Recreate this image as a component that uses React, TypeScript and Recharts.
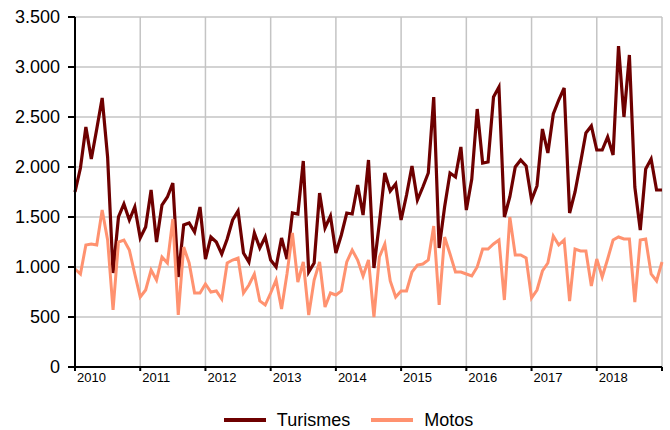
import { LineChart, Line, XAxis, YAxis, CartesianGrid, Legend } from "recharts";

// monthly values, Jan 2010 .. Jan 2019
const turismes = [
  1750, 1990, 2400, 2080, 2380, 2690, 2100, 940, 1500, 1630, 1470, 1600,
  1290, 1400, 1770, 1250, 1620, 1700, 1840, 900, 1420, 1440, 1350, 1600,
  1080, 1300, 1250, 1130, 1280, 1470, 1560, 1140, 1050, 1340, 1190, 1300,
  1070, 1000, 1290, 1080, 1540, 1530, 2060, 950, 1040, 1740, 1390, 1510,
  1140, 1320, 1540, 1530, 1820, 1520, 2070, 990, 1440, 1940, 1760, 1830,
  1470, 1720, 2010, 1670, 1800, 1940, 2700, 1190, 1600, 1940, 1900, 2200,
  1570, 1880, 2580, 2040, 2050, 2700, 2800, 1500, 1700, 2000, 2070, 2010,
  1670, 1810, 2380, 2140, 2530, 2670, 2790, 1540, 1750, 2040, 2340, 2410,
  2170, 2170, 2300, 2120, 3210, 2500, 3120, 1800, 1370, 1980, 2080, 1770, 1770,
];

const motos = [
  980, 930, 1220, 1230, 1220, 1570, 1270, 570, 1250, 1270, 1170, 930,
  700, 770, 970, 870, 1100, 1040, 1480, 520, 1200, 1040, 740, 740,
  830, 750, 760, 680, 1040, 1070, 1090, 740, 820, 930, 660, 620,
  740, 870, 580, 930, 1340, 850, 1050, 520, 870, 1050, 600, 740,
  720, 760, 1050, 1170, 1070, 910, 1070, 500, 1100, 1230, 860, 700,
  760, 760, 950, 1020, 1030, 1070, 1410, 620, 1300, 1130, 950, 950,
  930, 910, 1000, 1180, 1180, 1230, 1270, 670, 1500, 1120, 1120, 1090,
  690, 770, 960, 1040, 1310, 1220, 1270, 660, 1180, 1160, 1160, 810,
  1080, 900, 1080, 1270, 1300, 1280, 1280, 650, 1270, 1280, 930, 860, 1050,
];

const years = ["2010", "2011", "2012", "2013", "2014", "2015", "2016", "2017", "2018"];
const yTicks = [0, 500, 1000, 1500, 2000, 2500, 3000, 3500];

const xTicks = [...years.map((_, i) => i * 12), years.length * 12];

const data = turismes.map((t, i) => ({ idx: i, turismes: t, motos: motos[i] }));

const DARK = "#6e0000";
const LIGHT = "#ff9270";

const fmt = (v: number) => v.toString().replace(/\B(?=(\d{3})+(?!\d))/g, ".");

function YearTick({ x, y, payload }: any) {
  const label = years[payload.value / 12];
  if (!label) return <g />;
  return (
    <text x={x + 2} y={y} dy="0.71em" textAnchor="start" fontSize={13} fill="#000">
      {label}
    </text>
  );
}

function LegendBox() {
  const items = [
    { name: "Turismes", color: DARK },
    { name: "Motos", color: LIGHT },
  ];
  return (
    <div
      style={{
        height: 38,
        boxSizing: "border-box",
        paddingTop: 18,
        paddingLeft: 34,
        display: "flex",
        justifyContent: "center",
        alignItems: "center",
        gap: 20,
        fontSize: 18,
        color: "#000",
      }}
    >
      {items.map((it) => (
        <div key={it.name} style={{ display: "flex", alignItems: "center" }}>
          <svg width={44} height={8}>
            <line x1={1} y1={4} x2={43} y2={4} stroke={it.color} strokeWidth={4} />
          </svg>
          <span style={{ marginLeft: 10, lineHeight: "20px" }}>{it.name}</span>
        </div>
      ))}
    </div>
  );
}

export default function App() {
  return (
    <div style={{ position: "absolute", left: 0, top: 0, fontFamily: "'Liberation Sans', Arial, sans-serif" }}>
      <LineChart width={670} height={430} data={data} margin={{ top: 17, right: 8, left: 0, bottom: 0 }}>
        <CartesianGrid stroke="#c4c4c4" strokeWidth={1.5} />
        <XAxis
          dataKey="idx"
          type="number"
          domain={[0, 108]}
          ticks={xTicks}
          interval={0}
          height={25}
          tick={<YearTick />}
          tickSize={4}
          tickMargin={2}
          axisLine={{ stroke: "#000", strokeWidth: 2 }}
          tickLine={{ stroke: "#000", strokeWidth: 2 }}
        />
        <YAxis
          domain={[0, 3500]}
          ticks={yTicks}
          width={75}
          tickFormatter={fmt}
          tickSize={7}
          tickMargin={8}
          tick={{ fontSize: 18, fill: "#000" }}
          axisLine={{ stroke: "#000", strokeWidth: 2 }}
          tickLine={{ stroke: "#000", strokeWidth: 2 }}
        />
        <Legend verticalAlign="bottom" height={38} content={<LegendBox />} />
        <Line
          type="linear"
          dataKey="turismes"
          name="Turismes"
          stroke={DARK}
          strokeWidth={3.2}
          dot={false}
          isAnimationActive={false}
        />
        <Line
          type="linear"
          dataKey="motos"
          name="Motos"
          stroke={LIGHT}
          strokeWidth={3}
          dot={false}
          isAnimationActive={false}
        />
      </LineChart>
    </div>
  );
}
